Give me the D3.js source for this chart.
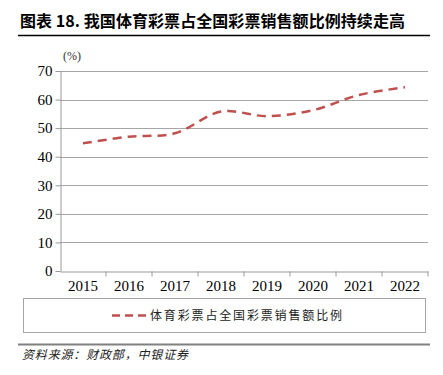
<!DOCTYPE html>
<html>
<head>
<meta charset="utf-8">
<script src="https://cdn.jsdelivr.net/npm/d3@7"></script>
<style>
  body { margin: 0; background: #fff; }
  svg { display: block; }
</style>
</head>
<body>
<div id="chart"></div>
<script>
const width = 443;
const height = 375;

// dati
const years = ["2015", "2016", "2017", "2018", "2019", "2020", "2021", "2022"];
const shares = [44.7, 47.0, 48.2, 55.8, 54.2, 56.3, 61.6, 64.3];
const yTicks = [0, 10, 20, 30, 40, 50, 60, 70];
const seriesName = "体育彩票占全国彩票销售额比例";
const titleText = "图表 18. 我国体育彩票占全国彩票销售额比例持续走高";
const sourceText = "资料来源：财政部，中银证券";

const svg = d3.select("#chart")
  .append("svg")
  .attr("width", width)
  .attr("height", height);

const cjk = "'Noto Sans CJK SC', sans-serif";
const serif = "'Liberation Serif', 'DejaVu Serif', serif";

//titolo
svg.append("text")
  .attr("x", 20)
  .attr("y", 27)
  .text(titleText)
  .attr("textLength", 385)
  .attr("lengthAdjust", "spacing")
  .style("font-family", cjk)
  .style("font-weight", "bold")
  .style("font-size", "16px")
  .style("fill", "#000");

svg.append("line")
  .attr("x1", 18).attr("x2", 430)
  .attr("y1", 35.5).attr("y2", 35.5)
  .attr("stroke", "#000")
  .attr("stroke-width", 1.5);

const chartMargin = { left: 60, top: 71 };

const xScale = d3.scaleBand().domain(years).range([0, 368]);
const yScale = d3.scaleLinear().domain([0, 70]).range([200, 0]);

const inner = svg.append("g")
  .attr("transform", `translate(${chartMargin.left},${chartMargin.top})`);

//griglia
inner.append("g")
  .selectAll("line")
  .data(yTicks.filter(d => d > 0))
  .join("line")
  .attr("x1", 0)
  .attr("x2", 368)
  .attr("y1", d => Math.round(yScale(d)) + 0.5)
  .attr("y2", d => Math.round(yScale(d)) + 0.5)
  .attr("stroke", "#a6a6a6")
  .attr("stroke-width", 1);

//asse y
const yAxis = inner.append("g")
  .attr("transform", "translate(0.5,0)")
  .call(d3.axisLeft(yScale).tickValues(yTicks).tickSize(5).tickSizeOuter(0));
yAxis.select(".domain").attr("stroke", "#999");
yAxis.selectAll(".tick line").attr("stroke", "#999");
yAxis.selectAll("text")
  .attr("x", -8)
  .style("font-family", serif)
  .style("font-size", "15px")
  .style("fill", "#000");

//asse x
const xAxis = inner.append("g")
  .attr("transform", `translate(0,${200.5})`)
  .call(d3.axisBottom(xScale).tickSize(0).tickSizeOuter(0));
xAxis.select(".domain").attr("stroke", "#999");
xAxis.selectAll("text")
  .attr("y", 9)
  .style("font-family", serif)
  .style("font-size", "15px")
  .style("fill", "#000");
// tacche tra le categorie
xAxis.append("g")
  .selectAll("line")
  .data(years)
  .join("line")
  .attr("x1", (d, i) => xScale.step() * (i + 1))
  .attr("x2", (d, i) => xScale.step() * (i + 1))
  .attr("y1", 0)
  .attr("y2", 5)
  .attr("stroke", "#999");

inner.append("text")
  .attr("x", 3)
  .attr("y", -11)
  .text("(%)")
  .style("font-family", serif)
  .style("font-size", "12px")
  .style("fill", "#333");

//linea
const line = d3.line()
  .x((d, i) => xScale(years[i]) + xScale.bandwidth() / 2)
  .y(d => yScale(d))
  .curve(d3.curveCatmullRom.alpha(0.5));

inner.append("path")
  .datum(shares)
  .attr("d", line)
  .attr("fill", "none")
  .attr("stroke", "#c0504d")
  .attr("stroke-width", 2.5)
  .attr("stroke-dasharray", "9,6");

//legenda
const legend = svg.append("g");
legend.append("rect")
  .attr("x", 23.5).attr("y", 298.5)
  .attr("width", 402).attr("height", 34)
  .attr("fill", "none")
  .attr("stroke", "#a6a6a6");
legend.append("line")
  .attr("x1", 112).attr("x2", 148)
  .attr("y1", 315.5).attr("y2", 315.5)
  .attr("stroke", "#c0504d")
  .attr("stroke-width", 2.5)
  .attr("stroke-dasharray", "8,5");
legend.append("text")
  .attr("x", 150)
  .attr("y", 320)
  .text(seriesName)
  .attr("textLength", 192)
  .attr("lengthAdjust", "spacing")
  .style("font-family", cjk)
  .style("font-size", "12px")
  .style("fill", "#222");

//fonte
svg.append("line")
  .attr("x1", 18).attr("x2", 430)
  .attr("y1", 344.5).attr("y2", 344.5)
  .attr("stroke", "#808080")
  .attr("stroke-width", 2);
svg.append("text")
  .attr("x", 22)
  .attr("y", 359)
  .text(sourceText)
  .attr("textLength", 166)
  .attr("lengthAdjust", "spacing")
  .style("font-family", cjk)
  .style("font-style", "italic")
  .style("font-size", "12px")
  .style("fill", "#222");
</script>
</body>
</html>
